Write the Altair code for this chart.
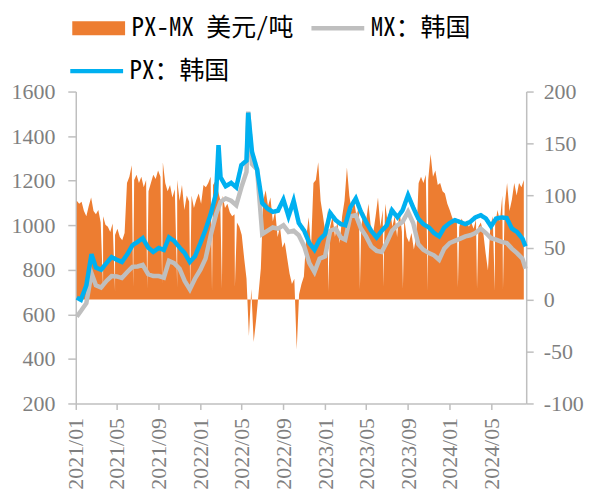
import altair as alt
import pandas as pd

# ---- line series (semi-monthly readings) ----
dates = [
    "2021-01-04", "2021-01-16", "2021-02-01", "2021-02-16", "2021-03-01", "2021-03-16",
    "2021-04-01", "2021-04-16", "2021-05-01", "2021-05-16", "2021-06-01", "2021-06-16",
    "2021-07-01", "2021-07-16", "2021-08-01", "2021-08-16", "2021-09-01", "2021-09-16",
    "2021-10-01", "2021-10-16", "2021-11-01", "2021-11-16", "2021-12-01", "2021-12-16",
    "2022-01-01", "2022-01-16", "2022-02-01", "2022-02-16", "2022-02-23", "2022-03-01",
    "2022-03-16", "2022-04-01", "2022-04-16", "2022-05-01", "2022-05-16", "2022-05-21",
    "2022-06-01", "2022-06-16", "2022-07-01", "2022-07-16", "2022-08-01", "2022-08-16",
    "2022-09-01", "2022-09-16", "2022-10-01", "2022-10-16", "2022-11-01", "2022-11-16",
    "2022-12-01", "2022-12-16",
    "2023-01-01", "2023-01-16", "2023-02-01", "2023-02-16", "2023-03-01", "2023-03-16",
    "2023-04-01", "2023-04-16", "2023-05-01", "2023-05-16", "2023-06-01", "2023-06-16",
    "2023-07-01", "2023-07-16", "2023-08-01", "2023-08-16", "2023-09-01", "2023-09-16",
    "2023-10-01", "2023-10-16", "2023-11-01", "2023-11-16", "2023-12-01", "2023-12-16",
    "2024-01-01", "2024-01-16", "2024-02-01", "2024-02-16", "2024-03-01", "2024-03-16",
    "2024-04-01", "2024-04-16", "2024-05-01", "2024-05-16", "2024-06-01", "2024-06-16",
    "2024-07-01", "2024-07-16", "2024-08-01", "2024-08-10",
]

px_korea = [
    675, 665, 730, 870, 810, 800, 830, 857, 845, 835, 870, 910,
    925, 942, 900, 880, 898, 889, 945, 930, 900, 875, 835, 860,
    920, 980, 1054, 1144, 1360, 1215, 1175, 1190, 1170, 1270, 1290, 1505,
    1330, 1250, 1100, 1075, 1060, 1065, 1115, 1040, 1110, 1010, 975, 920,
    890, 935,
    960, 1055, 1023, 1005, 1000, 1080, 1120, 1060, 1015, 975, 945, 975,
    1000, 1067, 1036, 1067, 1135, 1080, 1030, 1005, 990, 965, 950, 990,
    1010, 1023, 1014, 1005, 1015, 1035, 1045, 1030, 995, 1030, 1035, 1032,
    985, 970, 940, 905,
]

mx_korea = [
    590, 615, 650, 785, 730, 720, 750, 772, 770, 763, 790, 813,
    815, 822, 780, 772, 772, 765, 840, 830, 805, 750, 712, 760,
    800, 850, 960, 1050, 1080, 1105, 1120, 1110, 1090, 1170, 1240, 1510,
    1275, 1250, 960, 975, 990, 985, 1000, 970, 975, 955, 905, 830,
    790, 850,
    860, 975, 985, 945, 935, 1040, 1045, 985, 950, 905, 885, 880,
    925, 975, 1000, 1015, 1060, 1010, 915, 890, 875, 865, 845, 895,
    920, 930, 940, 950, 955, 965, 985, 965, 942, 935, 925, 920,
    895, 875, 850, 805,
]

# ---- spread (weekly readings from 2021-01-04, plus single-day dips) ----
spread_start = "2021-01-04"
spread_weekly = [
    95, 92, 94, 85, 80, 90, 98, 85, 82, 86,
    74, 80, 72, 70, 65, 73, 62, 68, 60, 57,
    64, 112, 118, 129, 115, 120, 112, 118, 108, 115,
    104, 112, 120, 116, 124, 118, 132, 112, 104, 110,
    98, 106, 115, 95, 110, 86, 100, 94, 100, 88,
    96, 102, 92, 110, 108, 112, 118, 110, 114, 105,
    96, 100, 88, 92, 84, 80, 82, 74, 70, 62,
    40, 20, -35, 10, -41, -20, 5, 30, 95, 105,
    90, 98, 75, 85, 60, 70, 50, 55, 40, 25,
    15, 20, -48, 5, 15, 22, 60, 79, 50, 112,
    115, 132, 95, 80, 64, 86, 70, 80, 60, 75,
    54, 80, 95, 127, 100, 85, 95, 80, 90, 70,
    85, 75, 92, 70, 64, 80, 98, 70, 86, 92,
    75, 88, 70, 80, 60, 86, 65, 78, 60, 55,
    64, 48, 60, 112, 118, 112, 120, 115, 140, 118,
    124, 110, 112, 104, 102, 92, 86, 79, 74, 76,
    70, 78, 72, 76, 70, 74, 68, 77, 70, 74,
    65, 45, 28, 70, 80, 72, 86, 75, 100, 90,
    112, 85, 96, 112, 100, 112, 108, 115,
]
dip_dates = [
    "2021-03-22", "2021-04-26", "2021-06-18", "2021-07-29", "2021-09-11",
    "2021-10-25", "2021-12-02", "2022-02-04", "2022-03-05", "2022-04-12",
    "2023-01-10", "2023-04-13", "2023-06-20", "2023-08-17", "2023-10-29",
    "2024-01-25", "2024-03-21", "2024-05-12", "2024-06-05",
]
dip_values = [10, 8, 12, 10, 15, 12, 10, 8, 10, 12, 8, 10, 12, 10, 8, 12, 10, 8, 10]

tick_months = [(2021, 1), (2021, 5), (2021, 9), (2022, 1), (2022, 5), (2022, 9),
               (2023, 1), (2023, 5), (2023, 9), (2024, 1), (2024, 5)]
left_ticks = [200, 400, 600, 800, 1000, 1200, 1400, 1600]
right_ticks = [-100, -50, 0, 50, 100, 150, 200]

series_names = ["PX-MX 美元/吨", "MX：韩国", "PX：韩国"]
series_colors = ["#ED7D31", "#BFBFBF", "#00B0F0"]

lines_df = pd.DataFrame({
    "date": pd.to_datetime(dates),
    "px": px_korea,
    "mx": mx_korea,
})

weekly_dates = pd.date_range(spread_start, periods=len(spread_weekly), freq="7D")
spread_df = pd.concat([
    pd.DataFrame({"date": weekly_dates, "spread": spread_weekly}),
    pd.DataFrame({"date": pd.to_datetime(dip_dates), "spread": dip_values}),
]).sort_values("date").reset_index(drop=True)

axis_gray = "#BFBFBF"
label_gray = "#7F7F7F"
serif = "Times New Roman, Liberation Serif, DejaVu Serif, serif"
cjk = "Noto Sans Mono CJK SC, Noto Sans CJK SC, sans-serif"

RECT = "M-1,-1L6.57,-1L6.57,1L-1,1Z"
LINE = "M-1,-0.32L6.57,-0.32L6.57,0.32L-1,0.32Z"


def make_legend(x, y, color, shape):
    return alt.Legend(
        orient="none", legendX=x, legendY=y, title=None, padding=0,
        labelFont=cjk, labelFontSize=25, labelColor="black", labelLimit=400,
        symbolSize=196, labelOffset=40, symbolType=shape,
        symbolFillColor=color, symbolStrokeColor=color, symbolStrokeWidth=0,
        symbolOpacity=1,
    )


x_enc = alt.X(
    "date:T",
    scale=alt.Scale(domain=[alt.DateTime(year=2021, month=1, date=1),
                            alt.DateTime(year=2024, month=8, date=12)]),
    axis=alt.Axis(
        values=[alt.DateTime(year=y, month=m, date=1) for y, m in tick_months],
        format="%Y/%m", labelAngle=270, title=None, grid=False,
        labelFont=serif, labelFontSize=22, labelColor=label_gray,
        domainColor=axis_gray, tickColor=axis_gray, domainWidth=1.5,
        tickWidth=1.5, tickSize=6, labelPadding=8,
    ),
)

area = alt.Chart(spread_df).transform_calculate(
    s_spread=f"'{series_names[0]}'"
).mark_area(interpolate="linear").encode(
    x=x_enc,
    y=alt.Y("spread:Q",
            scale=alt.Scale(domain=[-100, 200], nice=False, zero=False),
            axis=alt.Axis(orient="right", values=right_ticks, title=None, grid=False,
                          labelFont=serif, labelFontSize=22, labelColor=label_gray,
                          domainColor=axis_gray, tickColor=axis_gray, domainWidth=1.5,
                          tickWidth=1.5, tickSize=7, labelPadding=10,
                          labelExpr="'' + datum.value")),
    y2=alt.datum(0),
    fill=alt.Fill("s_spread:N",
                  scale=alt.Scale(domain=[series_names[0]], range=[series_colors[0]]),
                  legend=make_legend(-9, -76, series_colors[0], RECT)),
)

left_y = alt.Y("v:Q", scale=alt.Scale(domain=[200, 1600], nice=False, zero=False),
               axis=alt.Axis(orient="left", values=left_ticks, title=None, grid=False,
                             format="d",
                             labelFont=serif, labelFontSize=22, labelColor=label_gray,
                             domainColor=axis_gray, tickColor=axis_gray, domainWidth=1.5,
                             tickWidth=1.5, tickSize=8, labelPadding=13))

base = alt.Chart(lines_df).transform_calculate(
    s_mx=f"'{series_names[1]}'",
    s_px=f"'{series_names[2]}'",
)

mx_line = base.transform_calculate(v="datum.mx").mark_line(strokeWidth=4.5).encode(
    x=x_enc, y=left_y,
    stroke=alt.Stroke("s_mx:N",
                      scale=alt.Scale(domain=[series_names[1]], range=[series_colors[1]]),
                      legend=make_legend(231, -76, series_colors[1], LINE)),
)
px_line = base.transform_calculate(v="datum.px").mark_line(
    strokeWidth=4.5, color=series_colors[2]).encode(
    x=x_enc, y=left_y,
    strokeDash=alt.StrokeDash("s_px:N",
                              scale=alt.Scale(domain=[series_names[2]], range=[[1, 0]]),
                              legend=make_legend(-11, -33, series_colors[2], LINE)),
)

lines = alt.layer(mx_line, px_line)

chart = alt.layer(area, lines).resolve_scale(y="independent").properties(
    width=452, height=313,
    padding={"left": 3, "top": 7, "right": 0, "bottom": 0},
    background="white",
).configure_view(stroke=None)

chart.save("out.html", embed_options={"renderer": "svg", "actions": False})
